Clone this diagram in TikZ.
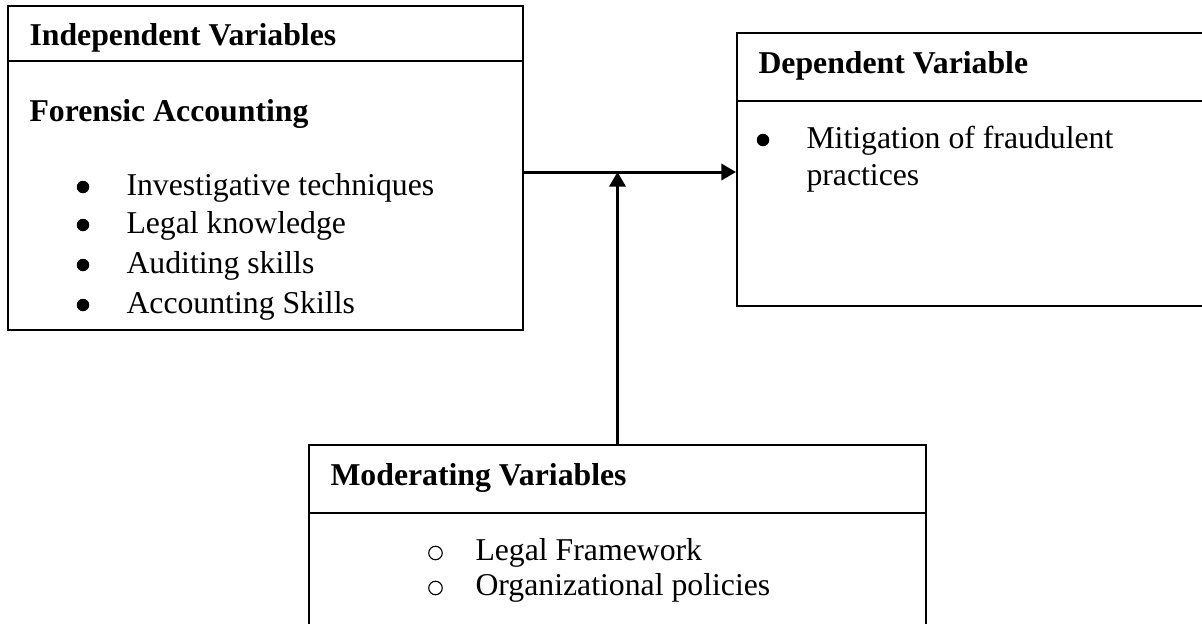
\documentclass[tikz,border=0pt]{standalone}
\usepackage{fontspec}
\setmainfont{Liberation Serif}
\usetikzlibrary{arrows.meta}

\newcommand{\bodyfont}{\fontsize{12.7}{15.5}\selectfont}

\tikzset{
  box/.style={draw, rectangle, inner sep=0pt, line width=0.8pt},
  divider/.style={line width=0.6pt},
  head/.style={anchor=base west, inner sep=0pt, font=\bodyfont\bfseries},
  txt/.style={anchor=base west, inner sep=0pt, font=\bodyfont},
  dot/.style={circle, fill, inner sep=0pt, minimum size=5pt},
  ring/.style={circle, draw, line width=0.45pt, inner sep=0pt, minimum size=5.4pt},
  link/.style={line width=1.2pt, -{Triangle[length=5.8pt,width=6.4pt]}}
}

\begin{document}
\begin{tikzpicture}[x=0.4pt, y=-0.4pt]
\useasboundingbox (0,0) rectangle (1202,623);
\clip (0,0) rectangle (1202,623);

\node (indep) [box, minimum width=206pt, minimum height=129.6pt] at (265.5,168) {};
\draw[divider] (indep.west |- 0,61) -- (indep.east |- 0,61);
\node (ivhead) [head] at (29,45) {Independent Variables};
\node (fahead) [head] at (29,121) {Forensic Accounting};
\node (b1) [dot] at (83,187) {};
\node (b2) [dot] at (83,225) {};
\node (b3) [dot] at (83,265) {};
\node (b4) [dot] at (83,305) {};
\node (i1) [txt] at (126,195) {Investigative techniques};
\node (i2) [txt] at (126,233) {Legal knowledge};
\node (i3) [txt] at (126,273) {Auditing skills};
\node (i4) [txt] at (126,313) {Accounting Skills};

\node (dep) [box, minimum width=209.2pt, minimum height=109.2pt] at (998.5,169.5) {};
\draw[divider] (dep.west |- 0,101) -- (dep.east |- 0,101);
\node (dvhead) [head] at (758,73) {Dependent Variable};
\node (b5) [dot] at (763,140) {};
\node (d1) [txt] at (806,148) {Mitigation of fraudulent};
\node (d2) [txt] at (806,185) {practices};

\node (mod) [box, minimum width=246.8pt, minimum height=102pt] at (617.5,572.5) {};
\draw[divider] (mod.west |- 0,513) -- (mod.east |- 0,513);
\node (mvhead) [head] at (330,485) {Moderating Variables};
\node (o1) [ring] at (435.5,553) {};
\node (o2) [ring] at (435.5,588) {};
\node (m1) [txt] at (475,560) {Legal Framework};
\node (m2) [txt] at (475,595) {Organizational policies};

\coordinate (jn) at (mod.north |- 0,172);
\draw[link] (indep.east |- jn) -- (jn -| dep.west);
\draw[link] (mod.north) -- (jn);
\end{tikzpicture}
\end{document}
